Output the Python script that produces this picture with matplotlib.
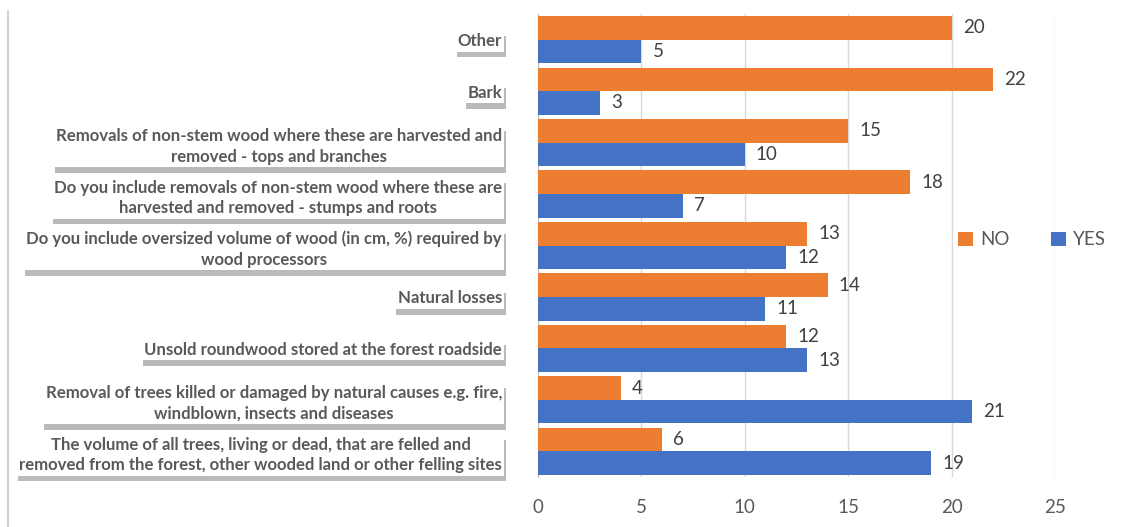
import matplotlib.pyplot as plt
import matplotlib.patheffects as pe
from matplotlib.lines import Line2D
import numpy as np

categories = [
    "The volume of all trees, living or dead, that are felled and\nremoved from the forest, other wooded land or other felling sites",
    "Removal of trees killed or damaged by natural causes e.g. fire,\nwindblown, insects and diseases",
    "Unsold roundwood stored at the forest roadside",
    "Natural losses",
    "Do you include oversized volume of wood (in cm, %) required by\nwood processors",
    "Do you include removals of non-stem wood where these are\nharvested and removed - stumps and roots",
    "Removals of non-stem wood where these are harvested and\nremoved - tops and branches",
    "Bark",
    "Other",
]
no_vals = [6, 4, 12, 14, 13, 18, 15, 22, 20]
yes_vals = [19, 21, 13, 11, 12, 7, 10, 3, 5]

orange = "#ED7D31"
blue = "#4472C4"
txt = "#595959"

plt.rcParams['font.family'] = ['Lato', 'DejaVu Sans']

fig = plt.figure(figsize=(11.23, 5.27), dpi=100)
ax = fig.add_axes([538 / 1123, 1 - 477 / 527, (1055 - 538) / 1123, (477 - 14) / 527])

y = np.arange(len(categories))
h = 0.46
b_no = ax.barh(y + h / 2, no_vals, height=h, color=orange, label="NO", zorder=3)
b_yes = ax.barh(y - h / 2, yes_vals, height=h, color=blue, label="YES", zorder=3)

for bars in (b_no, b_yes):
    ax.bar_label(bars, padding=8, fontsize=13.5, color="#404040")

ax.set_xlim(0, 25)
ax.set_ylim(-0.5, len(categories) - 0.5)
ax.set_xticks([0, 5, 10, 15, 20, 25])
ax.grid(axis="x", color="#d9d9d9", linewidth=1, zorder=0)
for s in ("top", "right", "bottom"):
    ax.spines[s].set_visible(False)
ax.spines["left"].set_color("#bfbfbf")
ax.tick_params(axis="x", length=0, labelsize=13.5, labelcolor=txt, pad=16)
ax.tick_params(axis="y", length=0, pad=26)

ax.set_yticks(y)
ax.set_yticklabels(categories, fontsize=12.1, fontweight="bold", color=txt,
                   multialignment="center", linespacing=1.35)
for lab in ax.get_yticklabels():
    lab.set_bbox(dict(boxstyle="square,pad=0.15", fc="white", ec="none"))
    lab.get_bbox_patch().set_path_effects([
        pe.SimplePatchShadow(offset=(1, -4), shadow_rgbFace="#8c8c8c", alpha=0.6),
        pe.Normal()])

fig.legend(handles=[b_no, b_yes], labels=["NO", "YES"], loc="center",
           bbox_to_anchor=(1032 / 1123, 1 - 240 / 527), ncol=2, frameon=False,
           fontsize=13.5, labelcolor=txt, handlelength=0.8, handleheight=0.8,
           handletextpad=0.4, columnspacing=2.2)

fig.add_artist(Line2D([8 / 1123, 8 / 1123], [1 - 11 / 527, 0], color="#d0d0d0", linewidth=1.5))

fig.savefig("out.png", dpi=100)
